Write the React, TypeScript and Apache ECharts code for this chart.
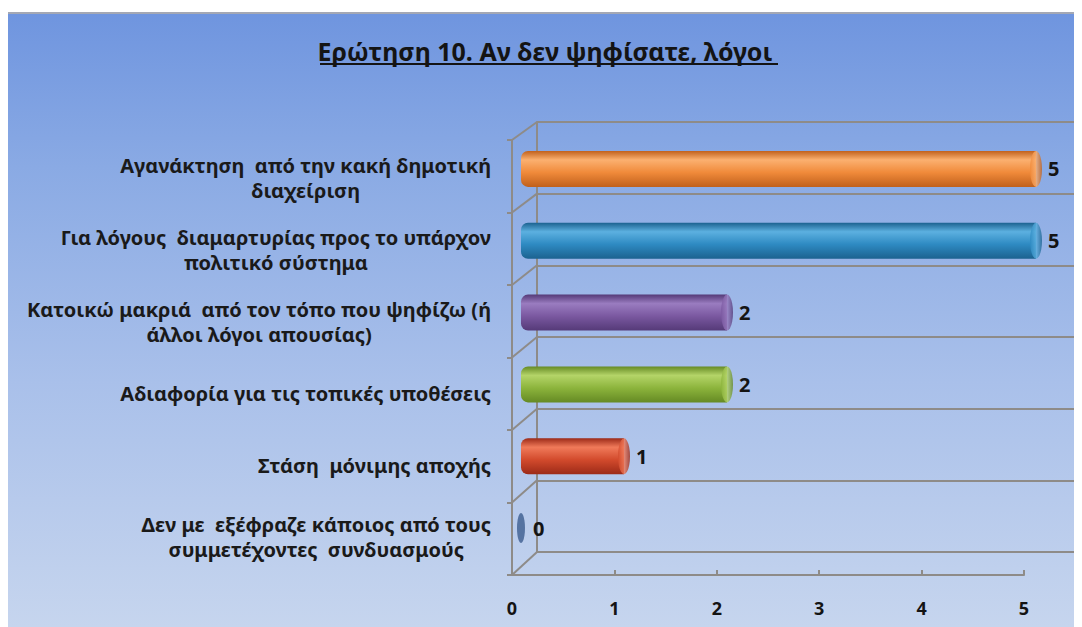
import React, { useEffect, useRef } from "react";
import * as echarts from "echarts";

const titleText = "Ερώτηση 10. Αν δεν ψηφίσατε, λόγοι";

const categories = [
  "Αγανάκτηση  από την κακή δημοτική\nδιαχείριση",
  "Για λόγους  διαμαρτυρίας προς το υπάρχον\nπολιτικό σύστημα",
  "Κατοικώ μακριά  από τον τόπο που ψηφίζω (ή\nάλλοι λόγοι απουσίας)",
  "Αδιαφορία για τις τοπικές υποθέσεις",
  "Στάση  μόνιμης αποχής",
  "Δεν με  εξέφραζε κάποιος από τους\nσυμμετέχοντες  συνδυασμούς",
];

const values = [5, 5, 2, 2, 1, 0];

const xMin = 0;
const xMax = 5;
const xInterval = 1;

// palette: [dark edge, highlight, base]
const palette = [
  ["#c0601c", "#fbb070", "#f08a3a"],
  ["#1c6290", "#5cb0e0", "#2e8ac2"],
  ["#553a78", "#9a7cc0", "#7a58a0"],
  ["#658a24", "#b4d468", "#8cb43c"],
  ["#9c2a18", "#f07a5a", "#d24a2c"],
  ["#2a4470", "#5a7cb0", "#3c5c8e"],
];

const FONT = "'Noto Sans', 'DejaVu Sans', sans-serif";
const GRID_COLOR = "#8e8b88";

function barGradient(i: number) {
  const [d, h, b] = palette[i];
  return new echarts.graphic.LinearGradient(0, 0, 0, 1, [
    { offset: 0, color: d },
    { offset: 0.25, color: h },
    { offset: 0.6, color: b },
    { offset: 1, color: d },
  ]);
}

function capGradient(i: number) {
  const [d, h, b] = palette[i];
  return new echarts.graphic.LinearGradient(0, 0, 1, 0, [
    { offset: 0, color: b },
    { offset: 0.5, color: h },
    { offset: 1, color: d },
  ]);
}

export default function App() {
  const ref = useRef<HTMLDivElement>(null);

  useEffect(() => {
    if (!ref.current) return;
    const chart = echarts.init(ref.current, undefined, { renderer: "svg" });

    const option: any = {
      animation: false,
      title: {
        text: titleText,
        left: "center",
        top: 19,
        textStyle: {
          fontFamily: FONT,
          fontWeight: "bold",
          fontSize: 25,
          color: "#141414",
        },
      },
      grid: [
        { left: 529, right: 7, top: 108, bottom: 75, containLabel: false },
        { left: 504, right: 58, top: 126, bottom: 52, containLabel: false },
        { left: 513, right: 46, top: 119, bottom: 63, containLabel: false },
      ],
      xAxis: [
        { gridIndex: 0, type: "value", min: xMin, max: xMax, show: false },
        {
          gridIndex: 1,
          type: "value",
          min: xMin,
          max: xMax,
          interval: xInterval,
          axisLine: { show: true, lineStyle: { color: GRID_COLOR, width: 2 } },
          axisTick: { show: true, inside: true, length: 5, lineStyle: { color: GRID_COLOR, width: 2 } },
          axisLabel: {
            margin: 24,
            fontFamily: FONT,
            fontWeight: "bold",
            fontSize: 18,
            color: "#141414",
          },
          splitLine: { show: false },
        },
        { gridIndex: 2, type: "value", min: xMin, max: xMax, show: false },
      ],
      yAxis: [
        {
          gridIndex: 0,
          type: "category",
          inverse: true,
          data: categories,
          axisLine: { show: true, lineStyle: { color: GRID_COLOR, width: 2 } },
          axisTick: { show: false },
          axisLabel: { show: false },
          splitLine: { show: true, lineStyle: { color: GRID_COLOR, width: 2 } },
        },
        {
          gridIndex: 1,
          type: "category",
          inverse: true,
          data: categories,
          axisLine: { show: true, lineStyle: { color: GRID_COLOR, width: 2 } },
          axisTick: { show: true, length: 5, lineStyle: { color: GRID_COLOR, width: 2 } },
          axisLabel: { show: false },
          splitLine: { show: false },
        },
        {
          gridIndex: 2,
          type: "category",
          inverse: true,
          data: categories,
          axisLine: { show: false },
          axisTick: { show: false },
          splitLine: { show: false },
          axisLabel: {
            margin: 30,
            align: "right",
            padding: [18, 0, 0, 0],
            formatter: (v: string) =>
              v
                .split("\n")
                .map((l) => `{c|${l}}`)
                .join("\n"),
            rich: {
              c: {
                align: "center",
                fontFamily: FONT,
                fontWeight: "bold",
                fontSize: 20,
                lineHeight: 25,
                color: "#1a1a1a",
              },
            },
          },
        },
      ],
      series: [
        {
          type: "bar",
          xAxisIndex: 2,
          yAxisIndex: 2,
          barWidth: 36,
          data: values.map((v, i) => ({
            value: v,
            itemStyle: { color: barGradient(i), borderRadius: [7, 0, 0, 7] },
          })),
          label: {
            show: true,
            position: "right",
            distance: 12,
            fontFamily: FONT,
            fontWeight: "bold",
            fontSize: 20,
            color: "#141414",
            formatter: "{c}",
          },
          z: 3,
        },
        {
          type: "scatter",
          xAxisIndex: 2,
          yAxisIndex: 2,
          silent: true,
          symbol: "circle",
          data: values.map((v, i) => ({
            value: [v, i],
            symbolSize: v > 0 ? [12, 36] : [8, 30],
            itemStyle: { color: v > 0 ? capGradient(i) : palette[i][2] },
          })),
          z: 4,
        },
      ],
    };

    chart.setOption(option);

    // depth lines joining the front edge to the back wall, from the axes' own scales
    const n = categories.length;
    const f0 = chart.convertToPixel({ xAxisIndex: 1, yAxisIndex: 1 }, [xMin, 0]) as number[];
    const f1 = chart.convertToPixel({ xAxisIndex: 1, yAxisIndex: 1 }, [xMin, 1]) as number[];
    const b0 = chart.convertToPixel({ xAxisIndex: 0, yAxisIndex: 0 }, [xMin, 0]) as number[];
    const b1 = chart.convertToPixel({ xAxisIndex: 0, yAxisIndex: 0 }, [xMin, 1]) as number[];
    const fBand = f1[1] - f0[1];
    const bBand = b1[1] - b0[1];
    const depth: any[] = [];
    for (let k = 0; k <= n; k++) {
      depth.push({
        type: "line",
        shape: {
          x1: f0[0],
          y1: f0[1] - fBand / 2 + k * fBand,
          x2: b0[0],
          y2: b0[1] - bBand / 2 + k * bBand,
        },
        style: { stroke: GRID_COLOR, lineWidth: 2 },
        z: 1,
      });
    }

    chart.setOption({
      graphic: [
        {
          type: "line",
          shape: { x1: 312, y1: 50, x2: 770, y2: 50 },
          style: { stroke: "#141414", lineWidth: 1.8 },
          z: 10,
        },
        ...depth,
      ],
    });

    return () => chart.dispose();
  }, []);

  return (
    <div
      ref={ref}
      style={{
        width: 1074,
        height: 615,
        marginTop: 4,
        borderTop: "2px solid #a4a8b4",
        boxSizing: "border-box",
        background: "linear-gradient(180deg, #6f95df 0%, #8aaae4 25%, #a9c0ea 60%, #c6d5ee 100%)",
      }}
    />
  );
}
